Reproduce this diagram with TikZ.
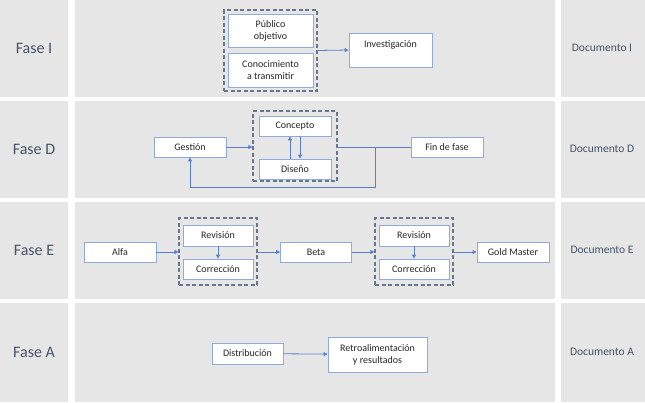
\documentclass[tikz,border=0pt]{standalone}
\usepackage{fontspec}
\setmainfont{Carlito}
\usetikzlibrary{arrows.meta}

\definecolor{bggray}{HTML}{E7E6E6}
\definecolor{boxblue}{HTML}{8FAADC}
\definecolor{arrblue}{HTML}{5B7FC7}
\definecolor{frame}{HTML}{66768F}
\definecolor{slate}{HTML}{44546A}
\definecolor{ink}{HTML}{262626}

\begin{document}
\begin{tikzpicture}[x=1pt,y=-1pt,
  box/.style={draw=boxblue,fill=white,line width=0.8pt,inner sep=0pt,align=center,
    text=ink,font=\fontsize{10}{12}\selectfont},
  grp/.style={draw=frame,line width=1.1pt,dash pattern=on 4pt off 2.5pt,inner sep=0pt},
  arr/.style={draw=arrblue,line width=0.8pt,-{Triangle[length=4pt,width=4pt]}},
  link/.style={draw=arrblue,line width=0.8pt},
  fase/.style={text=slate,font=\fontsize{16}{19}\selectfont},
  doc/.style={text=slate,font=\fontsize{11.5}{14}\selectfont}]
 % Background bands
  \useasboundingbox (0,0) rectangle (645,402);
  \fill[white] (0,0) rectangle (645,402);
  \foreach \top/\bot in {0/97, 101/198, 202/299, 303/402} {
    \fill[bggray] (0,\top) rectangle (68,\bot);
    \fill[bggray] (75,\top) rectangle (555,\bot);
    \fill[bggray] (561,\top) rectangle (645,\bot);
  }

 % Phase names and documents
  \foreach \y/\name in {48/I, 149/D, 250/E, 352/A} {
    \node[fase] (fase\name) at (34,\y) {Fase \name};
    \node[doc] (doc\name) at (602,\y) {Documento \name};
  }

 % FASE I
  \node[grp,minimum width=93pt,minimum height=81pt] (grpI) at (270.5,50.5) {};
  \node[box,minimum width=85pt,minimum height=33pt] (publico) at (270.5,30.5) {Público\\objetivo};
  \node[box,minimum width=85pt,minimum height=34pt] (conoc) at (270.5,70) {Conocimiento\\a transmitir};
  \node[box,minimum width=83pt,minimum height=34pt] (invest) at (390.5,50) {Investigación\\\mbox{}};
  \draw[arr] (grpI.east) -- (invest.west);

 % FASE D
  \node[box,minimum width=72pt,minimum height=20pt] (gestion) at (190,147) {Gestión};
  \node[grp,minimum width=84pt,minimum height=70pt] (grpD) at (295,146) {};
  \node[box,minimum width=72pt,minimum height=20pt] (concepto) at (295,126) {Concepto};
  \node[box,minimum width=72pt,minimum height=20pt] (diseno) at (295,169) {Diseño};
  \node[box,minimum width=72pt,minimum height=20pt] (finfase) at (447,147) {Fin de fase};
  \coordinate (nudo) at (375,147);
  \draw[arr] (gestion.east) -- (gestion.east -| grpD.west);
  \draw[arr] ([xshift=-5pt]diseno.north) -- ([xshift=-5pt]concepto.south);
  \draw[arr] ([xshift=5pt]concepto.south) -- ([xshift=5pt]diseno.north);
  \draw[link] (finfase.west -| grpD.east) -- (finfase.west);
  \draw[arr] (nudo) -- ++(0,40) -| (gestion.south);

 % FASE E
  \node[box,minimum width=72pt,minimum height=20pt] (alfa) at (120,252) {Alfa};
  \node[box,minimum width=71pt,minimum height=20pt] (beta) at (316,252) {Beta};
  \node[box,minimum width=72pt,minimum height=20pt] (gold) at (513,252) {Gold Master};
  \foreach \g/\x in {A/218, B/414} {
    \node[grp,minimum width=78pt,minimum height=67pt] (grpE\g) at (\x,251.5) {};
    \node[box,minimum width=70pt,minimum height=21pt] (rev\g) at (\x,235.5) {Revisión};
    \node[box,minimum width=70pt,minimum height=20pt] (cor\g) at (\x,269) {Corrección};
    \draw[arr] (rev\g) -- (cor\g);
  }
  \draw[arr] (alfa.east) -- (alfa.east -| grpEA.west);
  \draw[arr] (grpEA.east |- beta) -- (beta.west);
  \draw[arr] (beta.east) -- (beta.east -| grpEB.west);
  \draw[arr] (grpEB.east |- gold) -- (gold.west);

 % FASE A
  \node[box,minimum width=71pt,minimum height=21pt] (distrib) at (247.5,353.5) {Distribución};
  \node[box,minimum width=99pt,minimum height=35pt] (retro) at (377.5,354.5) {Retroalimentación\\y resultados};
  \draw[arr] (distrib) -- (retro);
\end{tikzpicture}
\end{document}
